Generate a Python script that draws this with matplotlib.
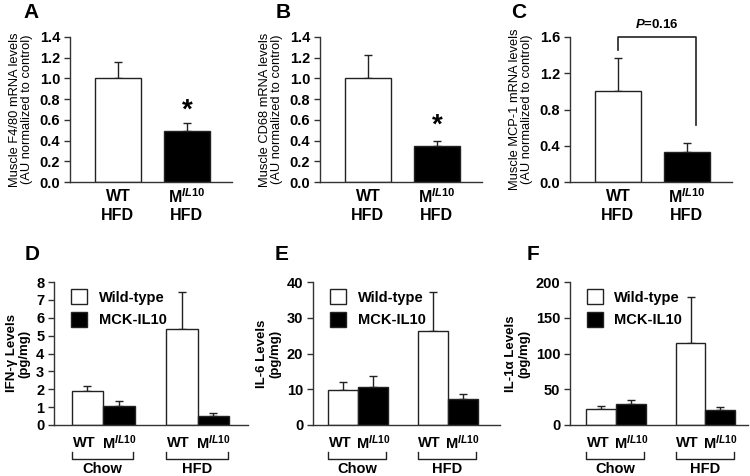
import matplotlib
matplotlib.use('Agg')
import matplotlib.pyplot as plt
import numpy as np

plt.rcParams['font.family'] = ['Liberation Sans', 'DejaVu Sans']
plt.rcParams['mathtext.fontset'] = 'custom'
plt.rcParams['mathtext.rm'] = 'Liberation Sans:bold'
plt.rcParams['mathtext.bf'] = 'Liberation Sans:bold'
plt.rcParams['mathtext.it'] = 'Liberation Sans:italic:bold'

# top row: muscle mRNA levels (WT HFD vs M-IL10 HFD)
f480_mean = [1.0, 0.49]
f480_err = [0.16, 0.08]
cd68_mean = [1.0, 0.35]
cd68_err = [0.23, 0.05]
mcp1_mean = [1.0, 0.33]
mcp1_err = [0.37, 0.10]

# bottom row: cytokines, [Chow, HFD]
ifng_wt = [1.88, 5.36]
ifng_wt_err = [0.29, 2.07]
ifng_mck = [1.06, 0.53]
ifng_mck_err = [0.28, 0.16]
il6_wt = [9.8, 26.2]
il6_wt_err = [2.1, 11.0]
il6_mck = [10.6, 7.2]
il6_mck_err = [3.2, 1.5]
il1a_wt = [22, 115]
il1a_wt_err = [5, 64]
il1a_mck = [29, 20.5]
il1a_mck_err = [6.5, 4.5]

W, H = 750, 476
fig = plt.figure(figsize=(7.5, 4.76), dpi=100)

def px_axes(left, right, top, bottom):
    return fig.add_axes([left / W, 1 - bottom / H, (right - left) / W, (bottom - top) / H])

edge = '#222222'
mil10 = r'M$^{\mathit{IL10}}$'

def style(ax):
    for s in ['top', 'right']:
        ax.spines[s].set_visible(False)
    for s in ['left', 'bottom']:
        ax.spines[s].set_color('#333333')
        ax.spines[s].set_linewidth(1.0)
    ax.tick_params(axis='y', direction='out', length=4, width=1, color='#333333', labelsize=10.5, pad=3)
    ax.tick_params(axis='x', length=0, labelbottom=False)
    for t in ax.get_yticklabels():
        t.set_fontweight('bold')

def top_panel(ax, means, errs, ymax, step, fmt, ylabel, letter, lx):
    x = np.array([0.0, 1.5])
    ax.bar(x, means, width=1.0, color=['white', 'black'], edgecolor=edge, linewidth=1.0, zorder=2)
    ax.errorbar(x, means, yerr=[[0, 0], errs], fmt='none', ecolor=edge, elinewidth=1.0,
                capsize=3, capthick=1.0, zorder=1)
    ax.set_ylim(0, ymax)
    ax.set_xlim(-1.04, 2.48)
    ax.set_yticks(np.arange(0, ymax + step / 2, step))
    ax.set_yticklabels([fmt.format(v) for v in np.arange(0, ymax + step / 2, step)])
    style(ax)
    ax.set_ylabel(ylabel, fontsize=9.3, labelpad=5, linespacing=1.0)
    for xi, lab in zip(x, ['WT', mil10]):
        ax.text(xi, -0.10, lab, transform=ax.get_xaxis_transform(), ha='center', va='center',
                fontsize=11.5, fontweight='bold')
        ax.text(xi, -0.23, 'HFD', transform=ax.get_xaxis_transform(), ha='center', va='center',
                fontsize=11.5, fontweight='bold')
    fig.text(lx / W, 1 - 12 / H, letter, fontsize=15, fontweight='bold', ha='center', va='center')
    return x

# A
axA = px_axes(70, 232, 37, 182)
xA = top_panel(axA, f480_mean, f480_err, 1.4, 0.2, '{:.1f}',
               'Muscle F4/80 mRNA levels\n(AU normalized to control)', 'A', 31)
axA.text(xA[1], f480_mean[1] + f480_err[1] + 0.12, '*', ha='center', va='center',
         fontsize=20, fontweight='bold')

# B
axB = px_axes(320, 482, 37, 182)
xB = top_panel(axB, cd68_mean, cd68_err, 1.4, 0.2, '{:.1f}',
               'Muscle CD68 mRNA levels\n(AU normalized to control)', 'B', 283)
axB.text(xB[1], cd68_mean[1] + cd68_err[1] + 0.14, '*', ha='center', va='center',
         fontsize=20, fontweight='bold')

# C
axC = px_axes(570, 732, 37, 182)
xC = top_panel(axC, mcp1_mean, mcp1_err, 1.6, 0.4, '{:.1f}',
               'Muscle MCP-1 mRNA levels\n(AU normalized to control)', 'C', 519)
axC.plot([xC[0], xC[0], xC[1] + 0.2, xC[1] + 0.2], [1.46, 1.6, 1.6, 0.63],
         color=edge, lw=1.2, clip_on=False)
axC.text((xC[0] + xC[1] + 0.2) / 2, 1.74, r'$\mathit{P}$=0.16', ha='center', va='center',
         fontsize=9.5, fontweight='bold')

def bottom_panel(ax, wt, wt_err, mck, mck_err, ymax, step, ylabel, letter, lx, xlim):
    centers = np.array([0.0, 3.0])
    wt_bars = ax.bar(centers, wt, width=1.0, color='white', edgecolor=edge, linewidth=1.0,
                     zorder=2, label='Wild-type')
    mck_bars = ax.bar(centers + 1, mck, width=1.0, color='black', edgecolor=edge, linewidth=1.0,
                      zorder=2, label='MCK-IL10')
    ax.errorbar(centers, wt, yerr=[[0, 0], wt_err], fmt='none', ecolor=edge, elinewidth=1.0,
                capsize=3, capthick=1.0, zorder=1)
    ax.errorbar(centers + 1, mck, yerr=[[0, 0], mck_err], fmt='none', ecolor=edge, elinewidth=1.0,
                capsize=3, capthick=1.0, zorder=1)
    ax.set_ylim(0, ymax)
    ax.set_xlim(*xlim)
    ax.set_yticks(np.arange(0, ymax + step / 2, step))
    style(ax)
    ax.set_ylabel(ylabel, fontsize=9.5, fontweight='bold', labelpad=4, linespacing=1.1)
    trans = ax.get_xaxis_transform()
    for c, grp in zip(centers, ['Chow', 'HFD']):
        ax.text(c - 0.1, -0.125, 'WT', transform=trans, ha='center', va='center',
                fontsize=10.5, fontweight='bold')
        ax.text(c + 1, -0.125, mil10, transform=trans, ha='center', va='center',
                fontsize=10.5, fontweight='bold')
        ax.plot([c - 0.5, c - 0.5, c + 1.45, c + 1.45], [-0.19, -0.238, -0.238, -0.19],
                transform=trans, color=edge, lw=1.0, clip_on=False)
        ax.text(c + 0.48, -0.31, grp, transform=trans, ha='center', va='center',
                fontsize=10.5, fontweight='bold')
    ax.legend(handles=[wt_bars, mck_bars], loc='upper left', bbox_to_anchor=(0.02, 1.04),
              frameon=False, handlelength=1.1, handleheight=1.2, handletextpad=0.8,
              labelspacing=0.5, prop={'weight': 'bold', 'size': 10.5})
    fig.text(lx / W, 1 - 255 / H, letter, fontsize=15, fontweight='bold', ha='center', va='center')

axD = px_axes(54, 248, 282, 425)
bottom_panel(axD, ifng_wt, ifng_wt_err, ifng_mck, ifng_mck_err, 8, 1,
             'IFN-\u03b3 Levels\n(pg/mg)', 'D', 32, (-1.06, 5.1))

axE = px_axes(313, 500, 282, 425)
bottom_panel(axE, il6_wt, il6_wt_err, il6_mck, il6_mck_err, 40, 10,
             'IL-6 Levels\n(pg/mg)', 'E', 282, (-1.0, 5.25))

axF = px_axes(570, 748, 282, 425)
bottom_panel(axF, il1a_wt, il1a_wt_err, il1a_mck, il1a_mck_err, 200, 50,
             'IL-1\u03b1 Levels\n(pg/mg)', 'F', 533, (-1.05, 4.93))

fig.savefig('out.png', dpi=100)
